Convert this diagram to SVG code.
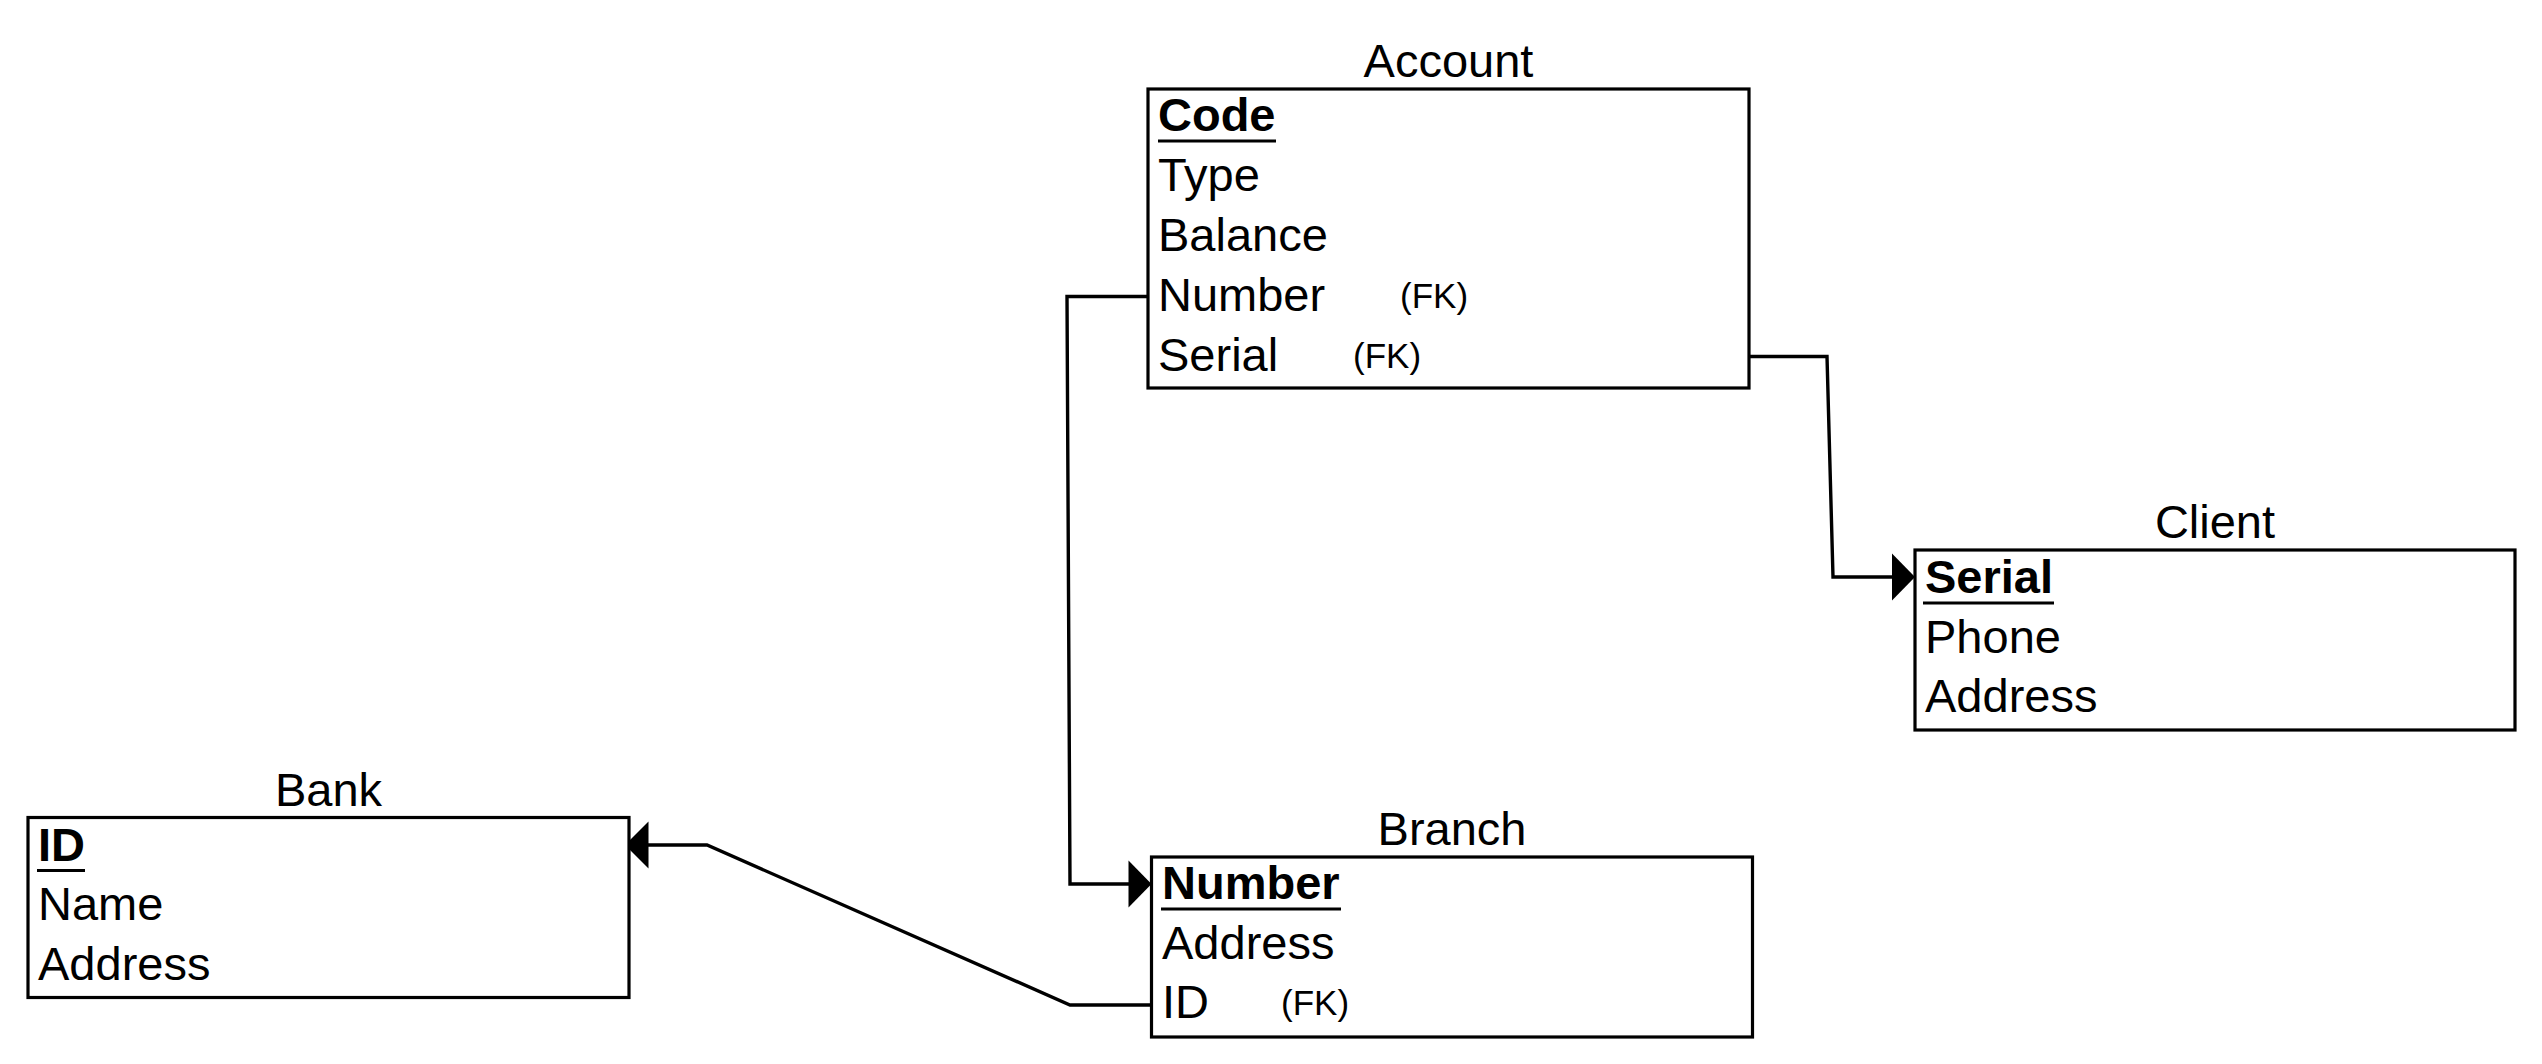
<svg xmlns="http://www.w3.org/2000/svg" width="2542" height="1064" viewBox="0 0 2542 1064">
<style>
.box{fill:#fff;stroke:#000;stroke-width:3.2}
.t{font-family:"Liberation Sans",Arial,sans-serif;font-size:47px;fill:#000}
.b{font-weight:bold}
.title{text-anchor:middle}
.fk{font-family:"Liberation Sans",Arial,sans-serif;font-size:35px;fill:#000}
.ul{stroke:#000;stroke-width:3}
.c{fill:none;stroke:#000;stroke-width:3.4}
.ah{fill:#000;stroke:none}
</style>
<rect width="2542" height="1064" fill="#fff"/>
<g id="connectors">
<path class="c" d="M1148,296.5 L1067,296.5 L1070,884 L1130,884"/>
<polygon class="ah" points="1151.5,884 1128.5,860.5 1128.5,907.5"/>
<path class="c" d="M1749,356.5 L1827,356.5 L1833,577 L1894,577"/>
<polygon class="ah" points="1915,577 1892,553.5 1892,600.5"/>
<path class="c" d="M1151,1005 L1070,1005 L707,845 L646,845"/>
<polygon class="ah" points="625,845 648.5,821.5 648.5,868.5"/>
</g>
<g id="account">
<text class="t title" x="1448.5" y="77">Account</text>
<rect class="box" x="1148" y="89" width="601" height="299"/>
<text class="t b" x="1158" y="131">Code</text>
<line class="ul" x1="1158" y1="141" x2="1276" y2="141"/>
<text class="t" x="1158" y="191">Type</text>
<text class="t" x="1158" y="251">Balance</text>
<text class="t" x="1158" y="311">Number</text>
<text class="fk" x="1400" y="308">(FK)</text>
<text class="t" x="1158" y="371">Serial</text>
<text class="fk" x="1353" y="368">(FK)</text>
</g>
<g id="client">
<text class="t title" x="2215" y="538">Client</text>
<rect class="box" x="1915" y="550" width="600" height="180"/>
<text class="t b" x="1925" y="593">Serial</text>
<line class="ul" x1="1923" y1="603" x2="2054" y2="603"/>
<text class="t" x="1925" y="653">Phone</text>
<text class="t" x="1925" y="712">Address</text>
</g>
<g id="bank">
<text class="t title" x="328.5" y="806">Bank</text>
<rect class="box" x="28" y="817.5" width="601" height="180"/>
<text class="t b" x="38" y="861">ID</text>
<line class="ul" x1="37" y1="870.5" x2="85" y2="870.5"/>
<text class="t" x="38" y="920">Name</text>
<text class="t" x="38" y="980">Address</text>
</g>
<g id="branch">
<text class="t title" x="1452" y="845">Branch</text>
<rect class="box" x="1151.5" y="857" width="601" height="180"/>
<text class="t b" x="1162" y="899">Number</text>
<line class="ul" x1="1161" y1="909" x2="1341" y2="909"/>
<text class="t" x="1162" y="959">Address</text>
<text class="t" x="1162" y="1018">ID</text>
<text class="fk" x="1281" y="1015">(FK)</text>
</g>
</svg>
